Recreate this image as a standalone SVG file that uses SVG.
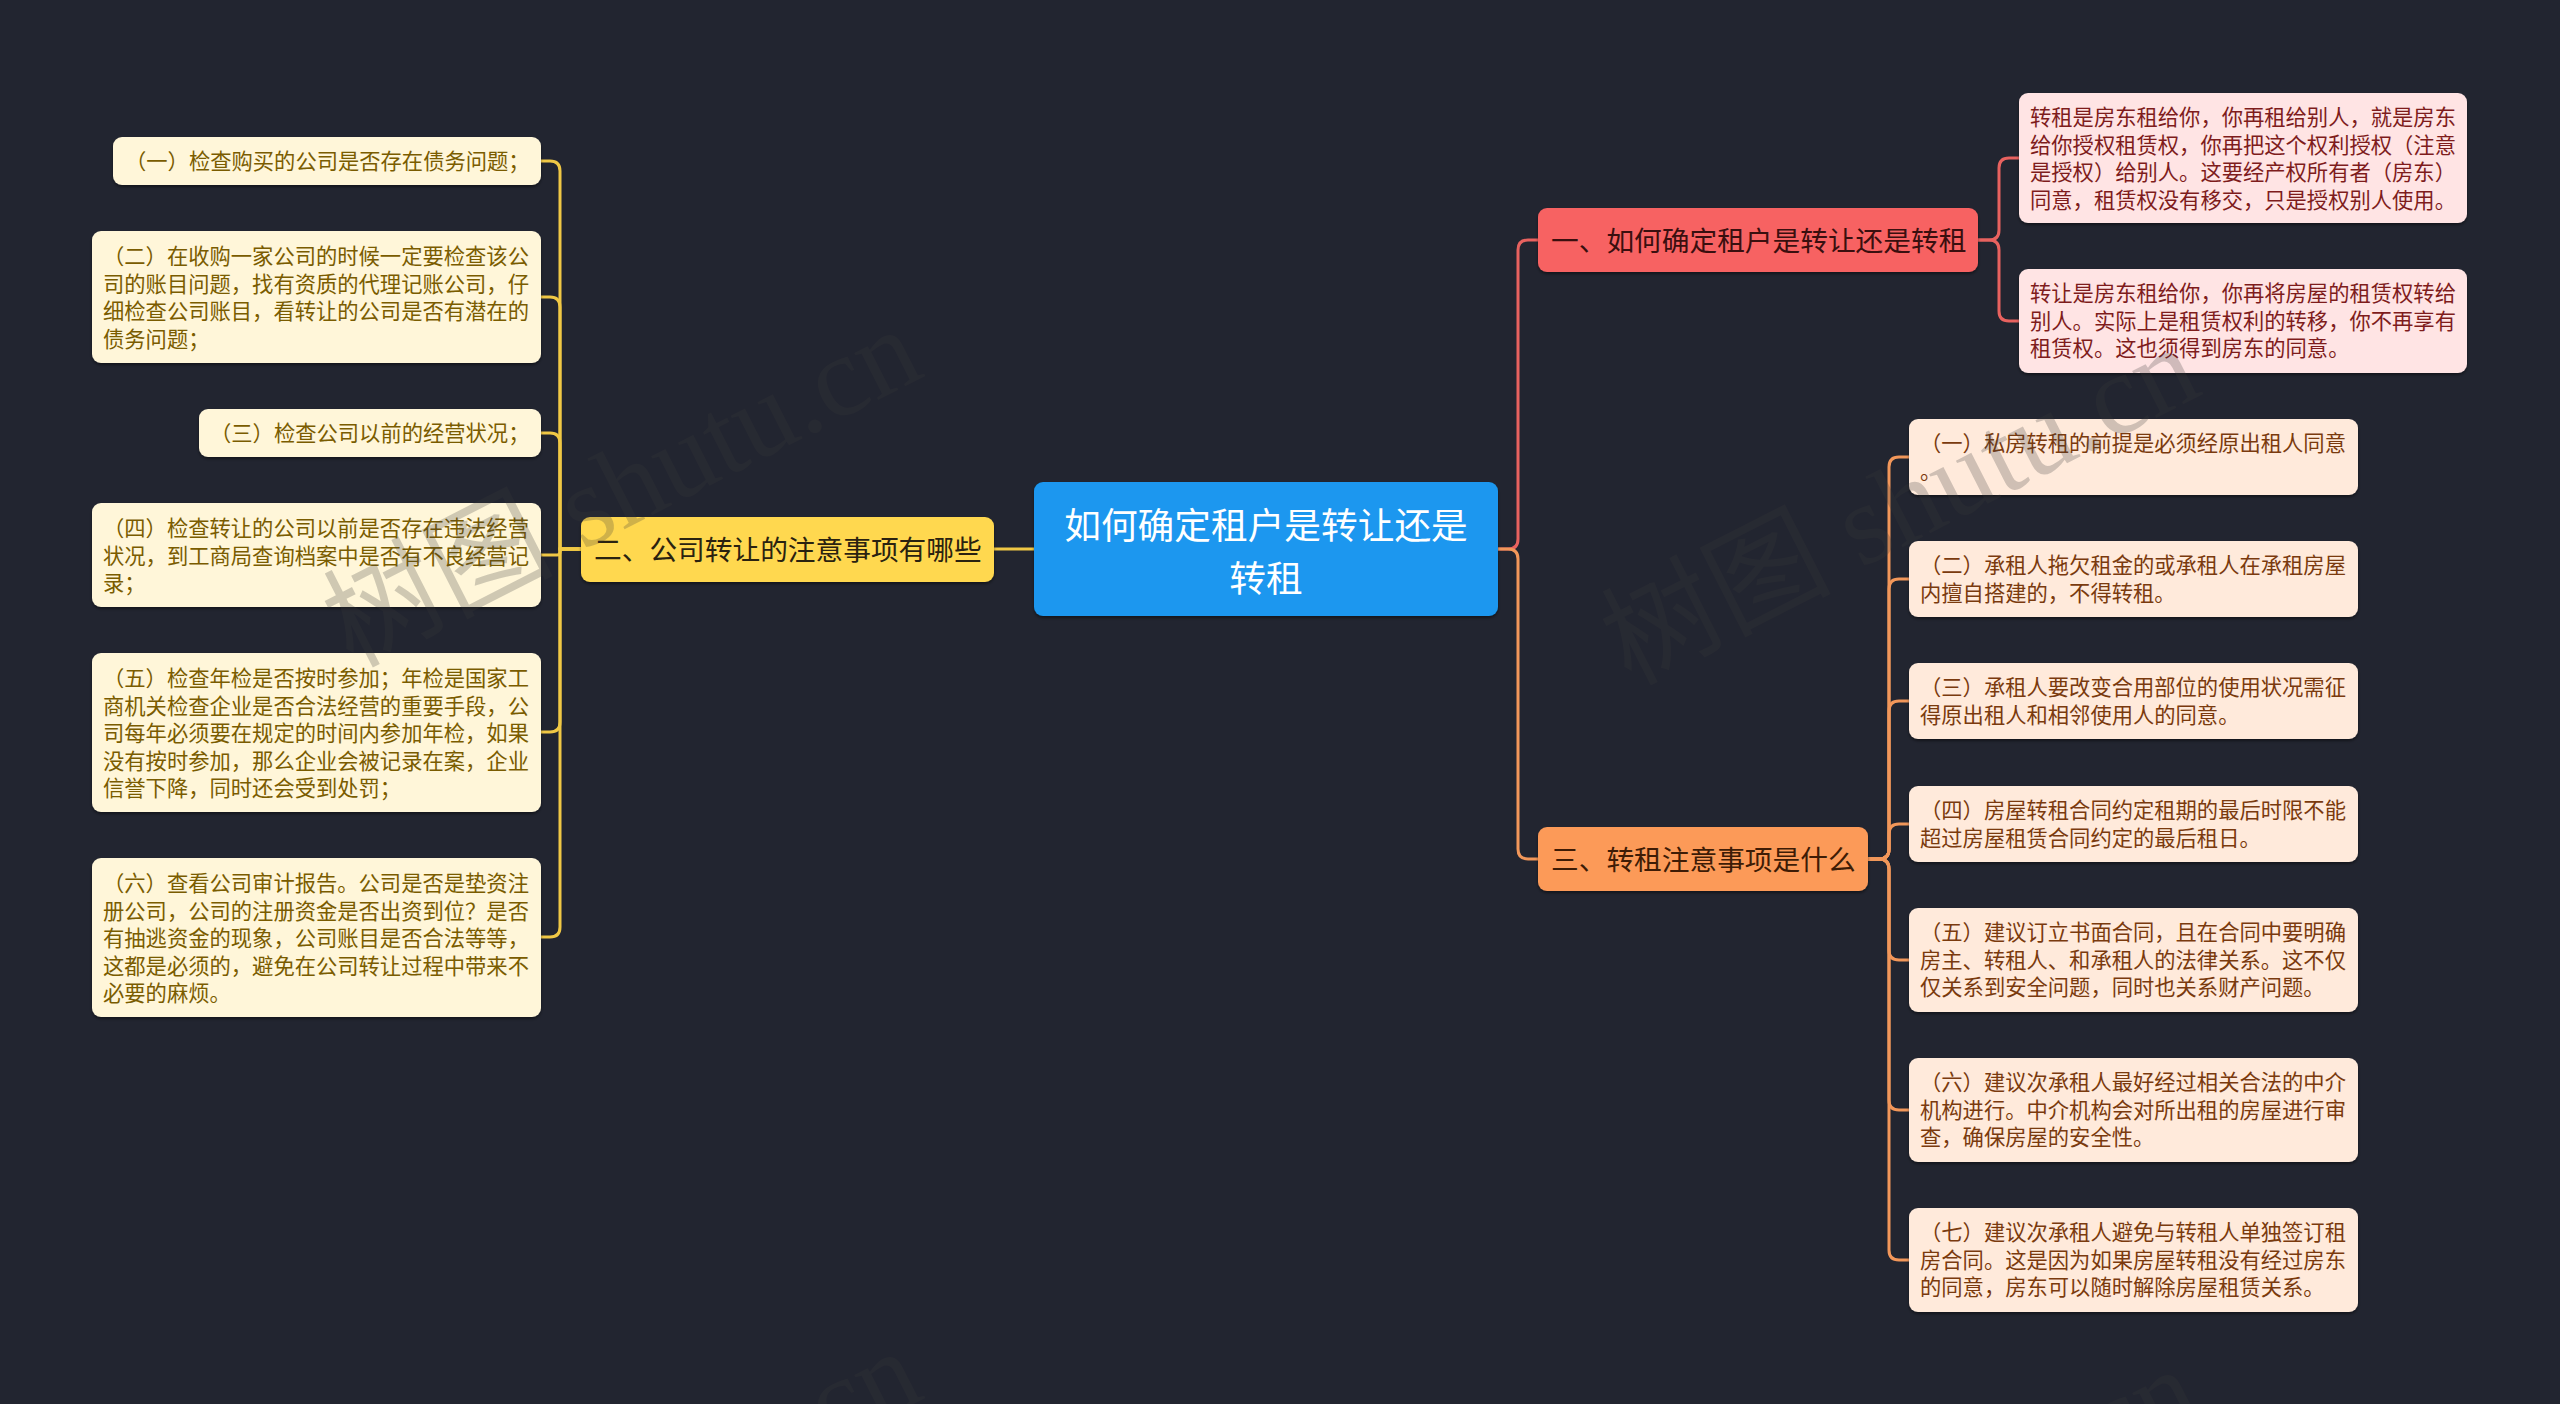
<svg xmlns="http://www.w3.org/2000/svg" width="2560" height="1404" viewBox="0 0 2560 1404">
<defs>
<filter id="sh" x="-5%" y="-10%" width="110%" height="130%">
<feDropShadow dx="0" dy="2" stdDeviation="1.5" flood-color="#000" flood-opacity="0.45"/>
</filter>
</defs>
<style>
text{font-family:"Noto Sans CJK SC","Noto Sans",sans-serif;}
.lf{font-size:21.3px;}
.lt1{fill:#7a5c00;}
.lt2{fill:#7e1c1c;}
.lt3{fill:#7a3a0e;}
.b1{fill:#fff6d9;}
.b2{fill:#ffe4e4;}
.b3{fill:#ffeadb;}
.mf{font-size:27.7px;}
.cy{fill:none;stroke:#f0c845;stroke-width:3;}
.cr{fill:none;stroke:#e8625f;stroke-width:3;}
.co{fill:none;stroke:#f2975a;stroke-width:3;}
.wm{font-family:"Liberation Serif","Noto Sans CJK SC",serif;font-size:115px;fill:#3a3a3a;opacity:0.24;}
</style>
<rect x="0" y="0" width="2560" height="1404" fill="#222530"/>

<g id="connectors">
<path class="cy" d="M1034 549 H994"/>
<path class="cy" d="M581 549 H560 V171 Q560 161 550 161 H541"/>
<path class="cy" d="M581 549 H560 V307 Q560 297 550 297 H541"/>
<path class="cy" d="M581 549 H560 V443 Q560 433 550 433 H541"/>
<path class="cy" d="M581 549 H563 Q560 549 560 552 Q560 555 557 555 H541"/>
<path class="cy" d="M581 549 H560 V722 Q560 732 550 732 H541"/>
<path class="cy" d="M581 549 H560 V927 Q560 937 550 937 H541"/>
<path class="cr" d="M1498 549 H1508 Q1518 549 1518 539 V250 Q1518 240 1528 240 H1538"/>
<path class="co" d="M1498 549 H1508 Q1518 549 1518 559 V849 Q1518 859 1528 859 H1538"/>
<path class="cr" d="M1978 240 H1989 Q1999 240 1999 230 V168 Q1999 158 2009 158 H2019"/>
<path class="cr" d="M1978 240 H1989 Q1999 240 1999 250 V311 Q1999 321 2009 321 H2019"/>
<path class="co" d="M1868 859 H1879 Q1889 859 1889 849 V467 Q1889 457 1899 457 H1909"/>
<path class="co" d="M1868 859 H1879 Q1889 859 1889 849 V589 Q1889 579 1899 579 H1909"/>
<path class="co" d="M1868 859 H1879 Q1889 859 1889 849 V711 Q1889 701 1899 701 H1909"/>
<path class="co" d="M1868 859 H1879 Q1889 859 1889 849 V834 Q1889 824 1899 824 H1909"/>
<path class="co" d="M1868 859 H1879 Q1889 859 1889 869 V950 Q1889 960 1899 960 H1909"/>
<path class="co" d="M1868 859 H1879 Q1889 859 1889 869 V1100 Q1889 1110 1899 1110 H1909"/>
<path class="co" d="M1868 859 H1879 Q1889 859 1889 869 V1250 Q1889 1260 1899 1260 H1909"/>
</g>

<g id="root">
<rect x="1034" y="482" width="464" height="134" rx="9" fill="#1a97ef" filter="url(#sh)"/>
<text x="1266" y="539" font-size="36.7" fill="#ffffff" text-anchor="middle">如何确定租户是转让还是</text>
<text x="1266" y="592" font-size="36.7" fill="#ffffff" text-anchor="middle">转租</text>
</g>

<g id="b2">
<rect x="581" y="517" width="413" height="65" rx="9" fill="#ffd84f" filter="url(#sh)"/>
<text class="mf" x="594" y="560" fill="#2a2210">二、公司转让的注意事项有哪些</text>
</g>
<g id="b1">
<rect x="1538" y="208" width="440" height="64" rx="9" fill="#f76262" filter="url(#sh)"/>
<text class="mf" x="1551" y="251" fill="#3a0f0f">一、如何确定租户是转让还是转租</text>
</g>
<g id="b3">
<rect x="1538" y="827" width="330" height="64" rx="9" fill="#fc9a58" filter="url(#sh)"/>
<text class="mf" x="1551" y="870" fill="#3e1c06">三、转租注意事项是什么</text>
</g>

<g id="l1">
<rect class="b1" x="113" y="137" width="428" height="48" rx="9" filter="url(#sh)"/>
<text class="lf lt1" x="125" y="169">（一）检查购买的公司是否存在债务问题；</text>
</g>
<g id="l2">
<rect class="b1" x="92" y="231" width="449" height="132" rx="9" filter="url(#sh)"/>
<text class="lf lt1" x="103" y="264">（二）在收购一家公司的时候一定要检查该公</text>
<text class="lf lt1" x="103" y="291.5">司的账目问题，找有资质的代理记账公司，仔</text>
<text class="lf lt1" x="103" y="319">细检查公司账目，看转让的公司是否有潜在的</text>
<text class="lf lt1" x="103" y="346.5">债务问题；</text>
</g>
<g id="l3">
<rect class="b1" x="199" y="409" width="342" height="48" rx="9" filter="url(#sh)"/>
<text class="lf lt1" x="210" y="441">（三）检查公司以前的经营状况；</text>
</g>
<g id="l4">
<rect class="b1" x="92" y="503" width="449" height="104" rx="9" filter="url(#sh)"/>
<text class="lf lt1" x="103" y="536">（四）检查转让的公司以前是否存在违法经营</text>
<text class="lf lt1" x="103" y="563.5">状况，到工商局查询档案中是否有不良经营记</text>
<text class="lf lt1" x="103" y="591">录；</text>
</g>
<g id="l5">
<rect class="b1" x="92" y="653" width="449" height="159" rx="9" filter="url(#sh)"/>
<text class="lf lt1" x="103" y="686">（五）检查年检是否按时参加；年检是国家工</text>
<text class="lf lt1" x="103" y="713.5">商机关检查企业是否合法经营的重要手段，公</text>
<text class="lf lt1" x="103" y="741">司每年必须要在规定的时间内参加年检，如果</text>
<text class="lf lt1" x="103" y="768.5">没有按时参加，那么企业会被记录在案，企业</text>
<text class="lf lt1" x="103" y="796">信誉下降，同时还会受到处罚；</text>
</g>
<g id="l6">
<rect class="b1" x="92" y="858" width="449" height="159" rx="9" filter="url(#sh)"/>
<text class="lf lt1" x="103" y="891">（六）查看公司审计报告。公司是否是垫资注</text>
<text class="lf lt1" x="103" y="918.5">册公司，公司的注册资金是否出资到位？是否</text>
<text class="lf lt1" x="103" y="946">有抽逃资金的现象，公司账目是否合法等等，</text>
<text class="lf lt1" x="103" y="973.5">这都是必须的，避免在公司转让过程中带来不</text>
<text class="lf lt1" x="103" y="1001">必要的麻烦。</text>
</g>

<g id="r1">
<rect class="b2" x="2019" y="93" width="448" height="130" rx="9" filter="url(#sh)"/>
<text class="lf lt2" x="2030" y="125">转租是房东租给你，你再租给别人，就是房东</text>
<text class="lf lt2" x="2030" y="152.5">给你授权租赁权，你再把这个权利授权（注意</text>
<text class="lf lt2" x="2030" y="180">是授权）给别人。这要经产权所有者（房东）</text>
<text class="lf lt2" x="2030" y="207.5">同意，租赁权没有移交，只是授权别人使用。</text>
</g>
<g id="r2">
<rect class="b2" x="2019" y="269" width="448" height="104" rx="9" filter="url(#sh)"/>
<text class="lf lt2" x="2030" y="301">转让是房东租给你，你再将房屋的租赁权转给</text>
<text class="lf lt2" x="2030" y="328.5">别人。实际上是租赁权利的转移，你不再享有</text>
<text class="lf lt2" x="2030" y="356">租赁权。这也须得到房东的同意。</text>
</g>

<g id="o1">
<rect class="b3" x="1909" y="419" width="449" height="76" rx="9" filter="url(#sh)"/>
<text class="lf lt3" x="1920" y="451">（一）私房转租的前提是必须经原出租人同意</text>
<text class="lf lt3" x="1920" y="478.5">。</text>
</g>
<g id="o2">
<rect class="b3" x="1909" y="541" width="449" height="76" rx="9" filter="url(#sh)"/>
<text class="lf lt3" x="1920" y="573">（二）承租人拖欠租金的或承租人在承租房屋</text>
<text class="lf lt3" x="1920" y="600.5">内擅自搭建的，不得转租。</text>
</g>
<g id="o3">
<rect class="b3" x="1909" y="663" width="449" height="76" rx="9" filter="url(#sh)"/>
<text class="lf lt3" x="1920" y="695">（三）承租人要改变合用部位的使用状况需征</text>
<text class="lf lt3" x="1920" y="722.5">得原出租人和相邻使用人的同意。</text>
</g>
<g id="o4">
<rect class="b3" x="1909" y="786" width="449" height="76" rx="9" filter="url(#sh)"/>
<text class="lf lt3" x="1920" y="818">（四）房屋转租合同约定租期的最后时限不能</text>
<text class="lf lt3" x="1920" y="845.5">超过房屋租赁合同约定的最后租日。</text>
</g>
<g id="o5">
<rect class="b3" x="1909" y="908" width="449" height="104" rx="9" filter="url(#sh)"/>
<text class="lf lt3" x="1920" y="940">（五）建议订立书面合同，且在合同中要明确</text>
<text class="lf lt3" x="1920" y="967.5">房主、转租人、和承租人的法律关系。这不仅</text>
<text class="lf lt3" x="1920" y="995">仅关系到安全问题，同时也关系财产问题。</text>
</g>
<g id="o6">
<rect class="b3" x="1909" y="1058" width="449" height="104" rx="9" filter="url(#sh)"/>
<text class="lf lt3" x="1920" y="1090">（六）建议次承租人最好经过相关合法的中介</text>
<text class="lf lt3" x="1920" y="1117.5">机构进行。中介机构会对所出租的房屋进行审</text>
<text class="lf lt3" x="1920" y="1145">查，确保房屋的安全性。</text>
</g>
<g id="o7">
<rect class="b3" x="1909" y="1208" width="449" height="104" rx="9" filter="url(#sh)"/>
<text class="lf lt3" x="1920" y="1240">（七）建议次承租人避免与转租人单独签订租</text>
<text class="lf lt3" x="1920" y="1267.5">房合同。这是因为如果房屋转租没有经过房东</text>
<text class="lf lt3" x="1920" y="1295">的同意，房东可以随时解除房屋租赁关系。</text>
</g>

<g id="watermark">
<text class="wm" x="352" y="668" transform="rotate(-27 352 668)">树图 shutu.cn</text>
<text class="wm" x="1630" y="686" transform="rotate(-27 1630 686)">树图 shutu.cn</text>
<text class="wm" x="352" y="1690" transform="rotate(-27 352 1690)">树图 shutu.cn</text>
<text class="wm" x="1630" y="1708" transform="rotate(-27 1630 1708)">树图 shutu.cn</text>
</g>
</svg>
